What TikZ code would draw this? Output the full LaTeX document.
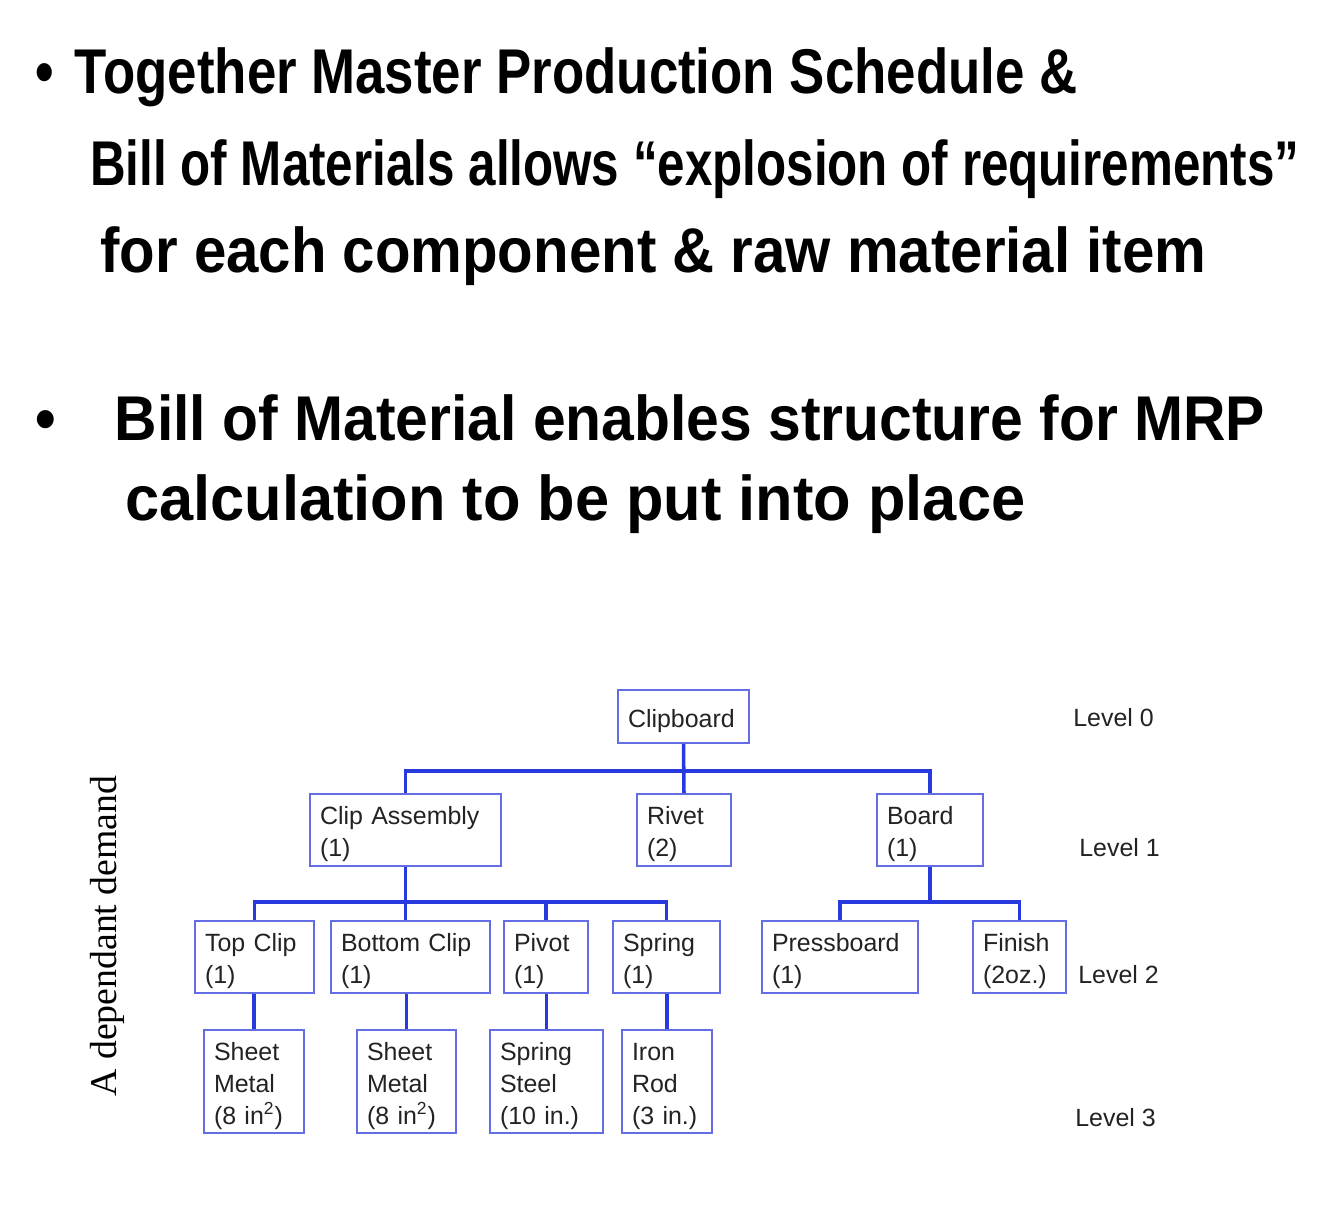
\documentclass[tikz,border=0pt]{standalone}
\usepackage{fontspec}
\setmainfont{Liberation Sans}
\newfontfamily\serifface{Liberation Serif}
\newfontfamily\handface{Liberation Sans}
\usetikzlibrary{positioning}
\definecolor{bomblue}{RGB}{38,58,222}
\definecolor{bomframe}{RGB}{100,110,228}
\definecolor{bomtext}{RGB}{35,35,35}

\begin{document}
\begin{tikzpicture}[
  x=0.02cm, y=-0.02cm,
  part/.style={draw=bomframe, line width=1.1pt, align=left, text=bomtext, font=\fontsize{14.2}{18.2}\selectfont, inner xsep=0.2cm, inner ysep=0pt, execute at begin node=\rule{0pt}{15pt}},
  top/.style={minimum height=1.06cm},
  mid/.style={minimum height=1.44cm},
  raw/.style={minimum height=2.06cm},
  bus/.style={draw=bomblue, line width=2pt},
  levellabel/.style={anchor=west, text=bomtext, font=\fontsize{14.2}{17.6}\selectfont, inner sep=0pt},
  hand/.style={anchor=base west, inner sep=0pt, font=\handface\bfseries\fontsize{36}{40}\selectfont}
]
  \path[use as bounding box, fill=white] (0,0) rectangle (1334,1230);

  % handwritten notes
  \node[hand, xscale=0.835] (noteA) at (35,93) {•\hspace{0.4em}Together Master Production Schedule \&};
  \node[hand, xscale=0.78] (noteB) at (90,185) {Bill of Materials allows “explosion of requirements”};
  \node[hand, xscale=0.92] (noteC) at (100,272) {for each component \& raw material item};
  \node[hand, xscale=0.93] (noteD) at (35,440) {•\hspace{1em}Bill of Material enables structure for MRP};
  \node[hand, xscale=0.97] (noteE) at (125,520) {calculation to be put into place};

  % level 0 and 1
  \node[part, top, text width=2.22cm] (clipboard) at (683.5,716.5) {Clipboard};
  \node[part, mid, text width=3.42cm] (clipass) at (405.5,830) {Clip Assembly\\(1)};
  \node[part, mid, text width=1.48cm] (rivet) at (684,830) {Rivet\\(2)};
  \node[part, mid, text width=1.72cm] (board) at (930,830) {Board\\(1)};

  % level 2
  \node[part, mid, text width=1.98cm] (topclip) at (254.5,957) {Top Clip\\(1)};
  \node[part, mid, text width=2.78cm] (botclip) at (410.5,957) {Bottom Clip\\(1)};
  \node[part, mid, text width=1.28cm] (pivot) at (546,957) {Pivot\\(1)};
  \node[part, mid, text width=1.74cm] (spring) at (666.5,957) {Spring\\(1)};
  \node[part, mid, text width=2.72cm] (pressboard) at (840,957) {Pressboard\\(1)};
  \node[part, mid, text width=1.46cm] (finish) at (1019.5,957) {Finish\\(2oz.)};

  % level 3
  \node[part, raw, text width=1.6cm] (sheetA) at (254,1081.5) {Sheet\\Metal\\(8 in\textsuperscript{2})};
  \node[part, raw, text width=1.58cm] (sheetB) at (406.5,1081.5) {Sheet\\Metal\\(8 in\textsuperscript{2})};
  \node[part, raw, text width=1.86cm] (steel) at (546.5,1081.5) {Spring\\Steel\\(10 in.)};
  \node[part, raw, text width=1.4cm] (ironrod) at (667,1081.5) {Iron\\Rod\\(3 in.)};

  \node[levellabel] (lvl0) at (1073,718) {Level 0};
  \node[levellabel] (lvl1) at (1079,848) {Level 1};
  \node[levellabel] (lvl2) at (1078,975) {Level 2};
  \node[levellabel] (lvl3) at (1075,1118) {Level 3};

  \node[rotate=90, text=black, inner sep=0pt, font=\serifface\fontsize{21.5}{24}\selectfont] (demand) at (107,936) {A dependant demand};

  % tree lines
  \draw[bus] (clipboard.south) -- ++(0,27) -| (clipass.north);
  \draw[bus] (clipboard.south) -- ++(0,27) -| (board.north);
  \draw[bus] (clipboard.south) -- (rivet.north);
  \draw[bus] (clipass.south) -- ++(0,35) -| (topclip.north);
  \draw[bus] (clipass.south) -- ++(0,35) -| (spring.north);
  \draw[bus] (clipass.south) -- ++(0,35) -| (pivot.north);
  \draw[bus] (clipass.south) -- (botclip.north -| clipass.south);
  \draw[bus] (board.south) -- ++(0,35) -| (pressboard.north);
  \draw[bus] (board.south) -- ++(0,35) -| (finish.north);
  \draw[bus] (sheetA.north) -- (sheetA.north |- topclip.south);
  \draw[bus] (sheetB.north) -- (sheetB.north |- botclip.south);
  \draw[bus] (steel.north) -- (steel.north |- pivot.south);
  \draw[bus] (ironrod.north) -- (ironrod.north |- spring.south);
\end{tikzpicture}
\end{document}
